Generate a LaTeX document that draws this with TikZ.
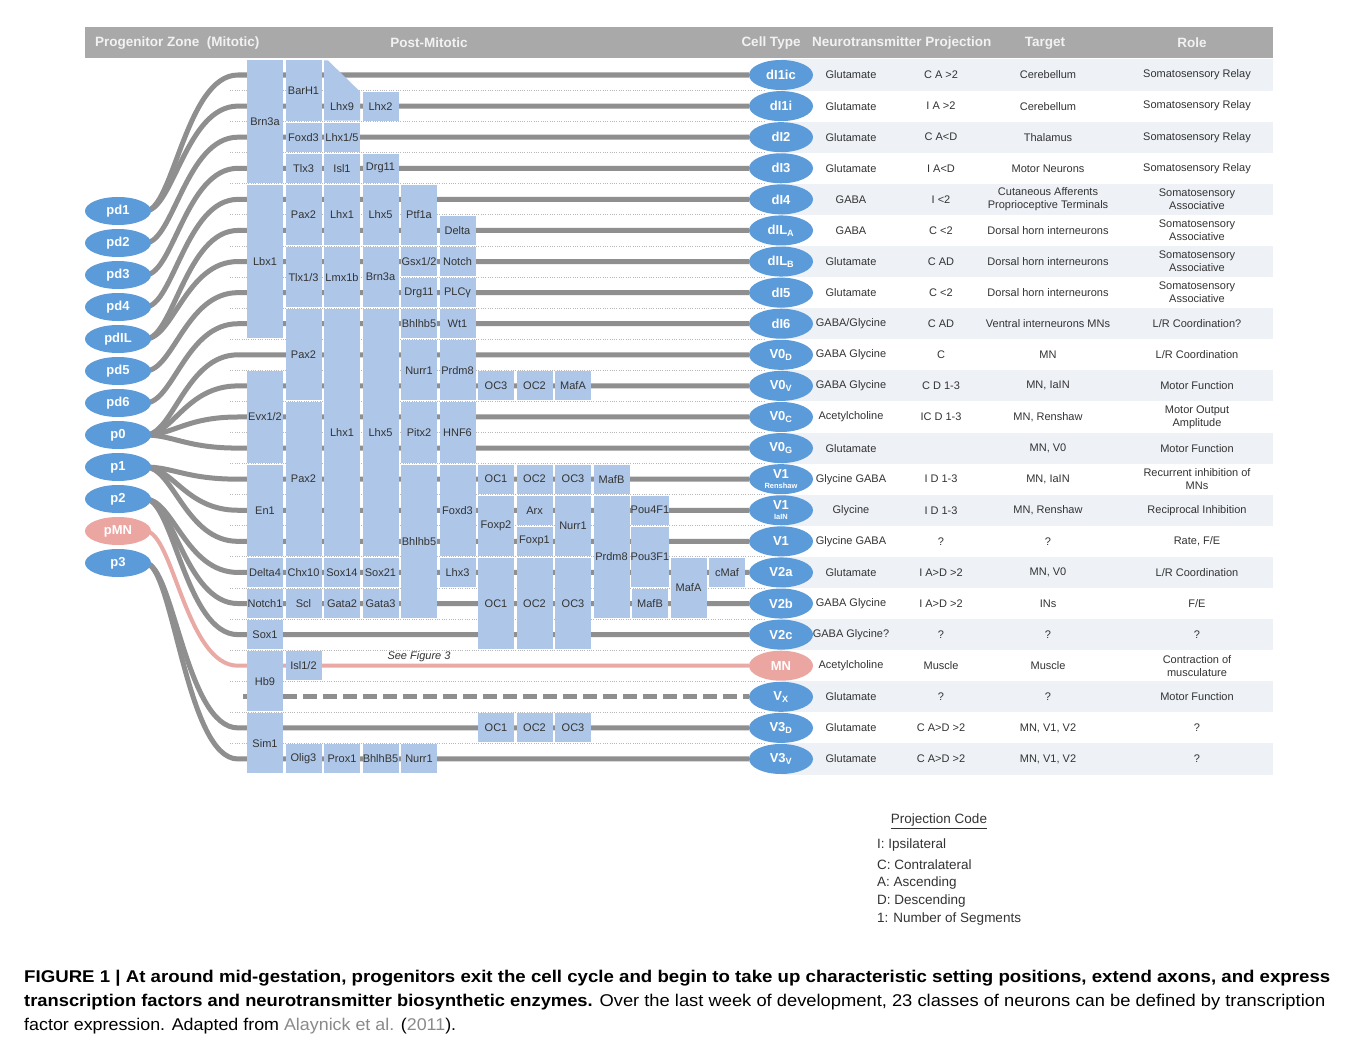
\documentclass[tikz,border=0pt]{standalone}
\usepackage{fontspec}
\setmainfont{Liberation Sans}
\usepackage{graphicx}
\usetikzlibrary{shapes.geometric}
\definecolor{boxblue}{HTML}{AEC7E8}
\definecolor{ellblue}{HTML}{5B9BD9}
\definecolor{pinkc}{HTML}{EBA6A2}
\definecolor{pinkl}{HTML}{E9A9A5}
\definecolor{axong}{HTML}{8F8F8F}
\definecolor{hdrg}{HTML}{A9A9A9}
\definecolor{bandc}{HTML}{EEF1F6}
\definecolor{txt}{HTML}{333333}
\definecolor{dotg}{HTML}{B8B8B8}
\definecolor{linkg}{HTML}{8A8A8A}
\pgfdeclarelayer{bands}
\pgfdeclarelayer{axons}
\pgfsetlayers{bands,axons,main}
\newcommand\ry[1]{(75+31.09*(#1))}
\newcommand\tfbox[5]{%
  \pgfmathsetmacro\bxc{265+38.5*(#2-1)}%
  \pgfmathsetmacro\byc{75+31.09*(#3+#4)/2}%
  \pgfmathsetmacro\bhh{31.09*(#4-#3)+29}%
  \node[tfb,minimum height=\bhh pt] (#1) at (\bxc,\byc) {#5};}
\newcommand\trow[5]{%
  \node[tt] (nt#1) at (851,{\ry{#1}}) {#2};%
  \node[tt] (pj#1) at (941,{\ry{#1}}) {#3};%
  \node[tt] (tg#1) at (1048,{\ry{#1}}) {#4};%
  \node[tt] (rl#1) at (1197,{\ry{#1}}) {#5};}
\newcommand\axon[2]{%
  \draw[axonl] ([xshift=-6pt]#1.east) .. controls +(28,0) and +(-52,0) .. (238,{\ry{#2}}) -- (c#2);}
\tikzset{
  tfb/.style={rectangle,fill=boxblue,inner sep=0pt,minimum width=36pt,text=txt,font=\fontsize{11}{12}\selectfont},
  btxt/.style={inner sep=0pt,text=txt,font=\fontsize{11}{12}\selectfont},
  prog/.style={ellipse,fill=ellblue,inner sep=0pt,minimum width=66pt,minimum height=28pt,text=white,font=\bfseries\fontsize{13}{14}\selectfont},
  ctype/.style={ellipse,fill=ellblue,inner sep=0pt,minimum width=64pt,minimum height=30pt,text=white,font=\bfseries\fontsize{13}{14}\selectfont,align=center},
  tt/.style={inner sep=0pt,text=txt,align=center,font=\fontsize{11}{13}\selectfont},
  hdr/.style={inner sep=0pt,text=white!95!black,font=\bfseries\fontsize{13.5}{15}\selectfont},
  lgd/.style={inner sep=0pt,anchor=west,text=txt,font=\fontsize{13.5}{15}\selectfont},
  axonl/.style={draw=axong,line width=5pt},
  dotl/.style={draw=dotg,line width=0.9pt,dash pattern=on 1pt off 1.3pt},
}
\begin{document}
\begin{tikzpicture}[x=1pt,y=-1pt]
\useasboundingbox (0,0) rectangle (1357,1049);
% table bands
\begin{pgfonlayer}{bands}
\fill[white] (0,0) rectangle (1357,1049);
\foreach \i in {0,2,...,22}{
  \fill[bandc] (781,{\ry{\i}-15.545}) rectangle (1273,{\ry{\i}+15.545});
}
\end{pgfonlayer}
% header
\fill[hdrg] (85,27) rectangle (1273,58);
\node[hdr,anchor=west] (h1) at (95,43) {Progenitor Zone\ \ (Mitotic)};
\node[hdr] (h2) at (429,43) {Post-Mitotic};
\node[hdr] (h3) at (771,43) {Cell Type};
\node[hdr,anchor=west] (h4) at (812,43) {Neurotransmitter Projection};
\node[hdr] (h5) at (1045,43) {Target};
\node[hdr] (h6) at (1192,43) {Role};
% progenitors
\node[prog] (pd1) at (118,211) {pd1};
\node[prog] (pd2) at (118,243) {pd2};
\node[prog] (pd3) at (118,275) {pd3};
\node[prog] (pd4) at (118,307) {pd4};
\node[prog] (pdIL) at (118,339) {pdIL};
\node[prog] (pd5) at (118,371) {pd5};
\node[prog] (pd6) at (118,403) {pd6};
\node[prog] (p0) at (118,435) {p0};
\node[prog] (p1) at (118,467) {p1};
\node[prog] (p2) at (118,499) {p2};
\node[prog,fill=pinkc] (pMN) at (118,531) {pMN};
\node[prog] (p3) at (118,563) {p3};
% cell types
\node[ctype] (c0) at (781,{\ry{0}}) {dI1ic};
\node[ctype] (c1) at (781,{\ry{1}}) {dI1i};
\node[ctype] (c2) at (781,{\ry{2}}) {dI2};
\node[ctype] (c3) at (781,{\ry{3}}) {dI3};
\node[ctype] (c4) at (781,{\ry{4}}) {dI4};
\node[ctype] (c5) at (781,{\ry{5}}) {dIL\textsubscript{A}};
\node[ctype] (c6) at (781,{\ry{6}}) {dIL\textsubscript{B}};
\node[ctype] (c7) at (781,{\ry{7}}) {dI5};
\node[ctype] (c8) at (781,{\ry{8}}) {dI6};
\node[ctype] (c9) at (781,{\ry{9}}) {V0\textsubscript{D}};
\node[ctype] (c10) at (781,{\ry{10}}) {V0\textsubscript{V}};
\node[ctype] (c11) at (781,{\ry{11}}) {V0\textsubscript{C}};
\node[ctype] (c12) at (781,{\ry{12}}) {V0\textsubscript{G}};
\node[ctype] (c13) at (781,{\ry{13}}) {V1\\[-4pt]\fontsize{7.5}{8}\selectfont Renshaw};
\node[ctype] (c14) at (781,{\ry{14}}) {V1\\[-4pt]\fontsize{7.5}{8}\selectfont IaIN};
\node[ctype] (c15) at (781,{\ry{15}}) {V1};
\node[ctype] (c16) at (781,{\ry{16}}) {V2a};
\node[ctype] (c17) at (781,{\ry{17}}) {V2b};
\node[ctype] (c18) at (781,{\ry{18}}) {V2c};
\node[ctype,fill=pinkc] (c19) at (781,{\ry{19}}) {MN};
\node[ctype] (c20) at (781,{\ry{20}}) {V\textsubscript{X}};
\node[ctype] (c21) at (781,{\ry{21}}) {V3\textsubscript{D}};
\node[ctype] (c22) at (781,{\ry{22}}) {V3\textsubscript{V}};
% transcription factor boxes
% column 1
\tfbox{b1a}{1}{0}{3}{Brn3a}
\tfbox{b1b}{1}{4}{8}{Lbx1}
\tfbox{b1c}{1}{10}{12}{Evx1/2}
\tfbox{b1d}{1}{13}{15}{En1}
\tfbox{b1e}{1}{16}{16}{Delta4}
\tfbox{b1f}{1}{17}{17}{Notch1}
\tfbox{b1g}{1}{18}{18}{Sox1}
\tfbox{b1h}{1}{19}{20}{Hb9}
\tfbox{b1i}{1}{21}{22}{Sim1}
% column 2
\tfbox{b2a}{2}{0}{1}{BarH1}
\tfbox{b2b}{2}{2}{2}{Foxd3}
\tfbox{b2c}{2}{3}{3}{Tlx3}
\tfbox{b2d}{2}{4}{5}{Pax2}
\tfbox{b2e}{2}{6}{7}{Tlx1/3}
\tfbox{b2f}{2}{8}{10}{Pax2}
\tfbox{b2g}{2}{11}{15}{Pax2}
\tfbox{b2h}{2}{16}{16}{Chx10}
\tfbox{b2i}{2}{17}{17}{Scl}
\tfbox{b2j}{2}{19}{19}{Isl1/2}
\tfbox{b2k}{2}{22}{22}{Olig3}
% column 3
\fill[boxblue] (324,{\ry{0}-14.5}) -- (328,{\ry{0}-14.5}) -- (360,{\ry{1}-14.5}) -- (360,{\ry{1}+14.5}) -- (324,{\ry{1}+14.5}) -- cycle;
\node[btxt] (b3a) at (342,{\ry{1}}) {Lhx9};
\tfbox{b3b}{3}{2}{2}{Lhx1/5}
\tfbox{b3c}{3}{3}{3}{Isl1}
\tfbox{b3d}{3}{4}{5}{Lhx1}
\tfbox{b3e}{3}{6}{7}{Lmx1b}
\tfbox{b3f}{3}{8}{15}{Lhx1}
\tfbox{b3g}{3}{16}{16}{Sox14}
\tfbox{b3h}{3}{17}{17}{Gata2}
\tfbox{b3i}{3}{22}{22}{Prox1}
% column 4
\tfbox{b4a}{4}{1}{1}{Lhx2}
\tfbox{b4b}{4}{3}{3}{Drg11}
\tfbox{b4c}{4}{4}{5}{Lhx5}
\tfbox{b4d}{4}{6}{7}{Brn3a}
\tfbox{b4e}{4}{8}{15}{Lhx5}
\tfbox{b4f}{4}{16}{16}{Sox21}
\tfbox{b4g}{4}{17}{17}{Gata3}
\tfbox{b4h}{4}{22}{22}{BhlhB5}
% column 5
\tfbox{b5a}{5}{4}{5}{Ptf1a}
\tfbox{b5b}{5}{6}{6}{Gsx1/2}
\tfbox{b5c}{5}{7}{7}{Drg11}
\tfbox{b5d}{5}{8}{8}{Bhlhb5}
\tfbox{b5e}{5}{9}{10}{Nurr1}
\tfbox{b5f}{5}{11}{12}{Pitx2}
\tfbox{b5g}{5}{13}{17}{Bhlhb5}
\tfbox{b5h}{5}{22}{22}{Nurr1}
% column 6
\tfbox{b6a}{6}{5}{5}{Delta}
\tfbox{b6b}{6}{6}{6}{Notch}
\tfbox{b6c}{6}{7}{7}{PLCγ}
\tfbox{b6d}{6}{8}{8}{Wt1}
\tfbox{b6e}{6}{9}{10}{Prdm8}
\tfbox{b6f}{6}{11}{12}{HNF6}
\tfbox{b6g}{6}{13}{15}{Foxd3}
\tfbox{b6h}{6}{16}{16}{Lhx3}
% column 7
\tfbox{b7a}{7}{10}{10}{OC3}
\tfbox{b7b}{7}{13}{13}{OC1}
\tfbox{b7c}{7}{14}{15}{Foxp2}
\tfbox{b7d}{7}{16}{18}{OC1}
\tfbox{b7e}{7}{21}{21}{OC1}
% column 8
\tfbox{b8a}{8}{10}{10}{OC2}
\tfbox{b8b}{8}{13}{13}{OC2}
\tfbox{b8c}{8}{14}{14}{Arx}
\tfbox{b8d}{8}{15}{15}{Foxp1}
\tfbox{b8e}{8}{16}{18}{OC2}
\tfbox{b8f}{8}{21}{21}{OC2}
% column 9
\tfbox{b9a}{9}{10}{10}{MafA}
\tfbox{b9b}{9}{13}{13}{OC3}
\tfbox{b9c}{9}{14}{15}{Nurr1}
\tfbox{b9d}{9}{16}{18}{OC3}
\tfbox{b9e}{9}{21}{21}{OC3}
% columns 10-13
\tfbox{b10a}{10}{13}{13}{MafB}
\tfbox{b10b}{10}{14}{17}{Prdm8}
\tfbox{b11a}{11}{14}{14}{Pou4F1}
\tfbox{b11b}{11}{15}{16}{Pou3F1}
\tfbox{b11c}{11}{17}{17}{MafB}
\tfbox{b12a}{12}{16}{17}{MafA}
\tfbox{b13a}{13}{16}{16}{cMaf}
\node[inner sep=0pt,text=txt,font=\itshape\fontsize{11}{12}\selectfont] (seefig) at (419,657) {See Figure 3};
% table
\trow{0}{Glutamate}{C A >2}{Cerebellum}{Somatosensory Relay}
\trow{1}{Glutamate}{I A >2}{Cerebellum}{Somatosensory Relay}
\trow{2}{Glutamate}{C A<D}{Thalamus}{Somatosensory Relay}
\trow{3}{Glutamate}{I A<D}{Motor Neurons}{Somatosensory Relay}
\trow{4}{GABA}{I <2}{Cutaneous Afferents\\Proprioceptive Terminals}{Somatosensory\\Associative}
\trow{5}{GABA}{C <2}{Dorsal horn interneurons}{Somatosensory\\Associative}
\trow{6}{Glutamate}{C AD}{Dorsal horn interneurons}{Somatosensory\\Associative}
\trow{7}{Glutamate}{C <2}{Dorsal horn interneurons}{Somatosensory\\Associative}
\trow{8}{GABA/Glycine}{C AD}{Ventral interneurons MNs}{L/R Coordination?}
\trow{9}{GABA Glycine}{C}{MN}{L/R Coordination}
\trow{10}{GABA Glycine}{C D 1-3}{MN, IaIN}{Motor Function}
\trow{11}{Acetylcholine}{IC D 1-3}{MN, Renshaw}{Motor Output\\Amplitude}
\node[tt] (nt12) at (851,{\ry{12}}) {Glutamate};
\node[tt] (tg12) at (1048,{\ry{12}}) {MN, V0};
\node[tt] (rl12) at (1197,{\ry{12}}) {Motor Function};
\trow{13}{Glycine GABA}{I D 1-3}{MN, IaIN}{Recurrent inhibition of\\MNs}
\trow{14}{Glycine}{I D 1-3}{MN, Renshaw}{Reciprocal Inhibition}
\trow{15}{Glycine GABA}{?}{?}{Rate, F/E}
\trow{16}{Glutamate}{I A>D >2}{MN, V0}{L/R Coordination}
\trow{17}{GABA Glycine}{I A>D >2}{INs}{F/E}
\trow{18}{GABA Glycine?}{?}{?}{?}
\trow{19}{Acetylcholine}{Muscle}{Muscle}{Contraction of\\musculature}
\trow{20}{Glutamate}{?}{?}{Motor Function}
\trow{21}{Glutamate}{C A>D >2}{MN, V1, V2}{?}
\trow{22}{Glutamate}{C A>D >2}{MN, V1, V2}{?}
% lines
\begin{pgfonlayer}{axons}
\foreach \i in {0,...,21}{
  \draw[dotl] (230,{\ry{\i}+15.545}) -- (765,{\ry{\i}+15.545});
}
\axon{pd1}{0}
\axon{pd1}{1}
\axon{pd2}{2}
\axon{pd3}{3}
\axon{pd4}{4}
\axon{pdIL}{5}
\axon{pdIL}{6}
\axon{pd5}{7}
\axon{pd6}{8}
\axon{p0}{9}
\axon{p0}{10}
\axon{p0}{11}
\axon{p0}{12}
\axon{p1}{13}
\axon{p1}{14}
\axon{p1}{15}
\axon{p2}{16}
\axon{p2}{17}
\axon{p2}{18}
\axon{p3}{21}
\axon{p3}{22}
\draw[draw=pinkl,line width=4pt] ([xshift=-6pt]pMN.east) .. controls +(28,0) and +(-52,0) .. (238,{\ry{19}}) -- (c19);
\coordinate (vxs) at (243,{\ry{20}});
\draw[axonl,dash pattern=on 14pt off 6pt] (vxs) -- (c20);
\end{pgfonlayer}
% legend
\node[inner sep=0pt,text=txt,font=\fontsize{13.5}{15}\selectfont] (lg0) at (939,821) {\underline{Projection Code}};
\node[lgd] (lg1) at (877,845) {I: Ipsilateral};
\node[lgd] (lg2) at (877,865) {C: Contralateral};
\node[lgd] (lg3) at (877,883) {A: Ascending};
\node[lgd] (lg4) at (877,901) {D: Descending};
\node[lgd] (lg5) at (877,919) {1: Number of Segments};
% caption
\node[inner sep=0pt,anchor=base west,font=\fontsize{17}{20}\selectfont] (cap1) at (24,982) {\resizebox{1306pt}{\height}{\bfseries FIGURE 1 | At around mid-gestation, progenitors exit the cell cycle and begin to take up characteristic setting positions, extend axons, and express}};
\node[inner sep=0pt,anchor=base west,font=\fontsize{17}{20}\selectfont] (cap2) at (24,1006) {\resizebox{1301pt}{\height}{\textbf{transcription factors and neurotransmitter biosynthetic enzymes.} Over the last week of development, 23 classes of neurons can be defined by transcription}};
\node[inner sep=0pt,anchor=base west,font=\fontsize{17}{20}\selectfont] (cap3) at (24,1030) {\resizebox{432pt}{\height}{factor expression. Adapted from \textcolor{linkg}{Alaynick et al.} (\textcolor{linkg}{2011}).}};
\end{tikzpicture}
\end{document}
